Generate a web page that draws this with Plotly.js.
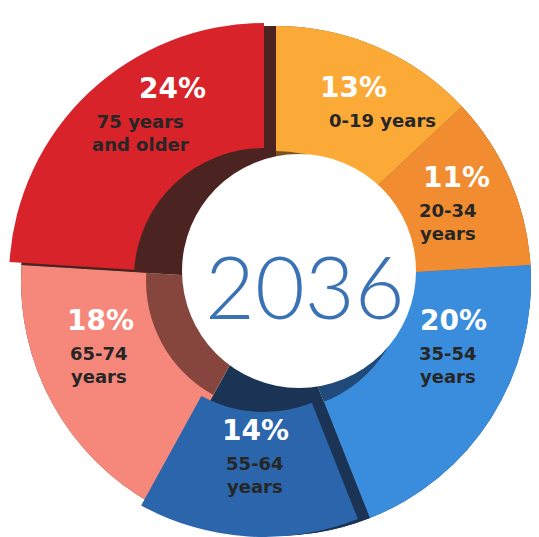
<!DOCTYPE html>
<html>
<head>
<meta charset="utf-8">
<script src="https://cdn.plot.ly/plotly-3.0.1.min.js"></script>
<style>
  html, body { margin: 0; padding: 0; background: #ffffff; overflow: hidden; }
  #chart { width: 539px; height: 537px; }
</style>
</head>
<body>
<div id="chart"></div>
<script>
// ---- data ----
const categories = ["0-19 years", "20-34 years", "35-54 years", "55-64 years", "65-74 years", "75 years and older"];
const shares = [13, 11, 20, 14, 18, 24];
const lineLabels = ["0-19 years", "20-34<br>years", "35-54<br>years", "55-64<br>years", "65-74<br>years", "75 years<br>and older"];
const centerLabel = "2036";

// ---- styling ----
const faceColors = ["#FBAA38", "#F18D30", "#3A8DDC", "#2B65AC", "#F6887B", "#D8232A"];
const wallColors = ["#7a5321", "#6e3d17", "#1f4a7a", "#1b3354", "#86463d", "#4b2321"];
const W = 539, H = 537;
const geo = { cx: 276, cy: 281, r: 255, inner: 130 };
const holeC = { cx: 299, cy: 271, r: 117 };
const raised = { 5: { dx: -12, dy: -3 }, 3: { dx: -12, dy: 1 } };
// label placement: ring along slice bisectors plus hand nudges (px)
const labelRing = { cx: 280, cy: 258, r: 190.6 };
const labelNudge = [[27, 24], [-7, 15], [7, -20], [-13, 2], [-14, -10], [-9, -11]];
const pctShiftX = [-29, 9, 6, 0, 2, 32];
const labelFont = "DejaVu Sans, Open Sans, sans-serif";

function domainFor(cx, cy, r) {
  return { x: [(cx - r) / W, (cx + r) / W], y: [1 - (cy + r) / H, 1 - (cy - r) / H] };
}

const base = {
  type: "pie", labels: categories, values: shares,
  sort: false, direction: "clockwise", rotation: 0,
  textinfo: "none", showlegend: false
};

const traces = [];
// inner wall / shadow disc
traces.push(Object.assign({}, base, {
  domain: domainFor(geo.cx, geo.cy, geo.r), hole: 0,
  marker: { colors: wallColors, line: { width: 0 } }, hoverinfo: "skip"
}));
// main ring (raised slices shown as their side walls here)
traces.push(Object.assign({}, base, {
  domain: domainFor(geo.cx, geo.cy, geo.r), hole: geo.inner / geo.r,
  marker: { colors: faceColors.map((c, i) => raised[i] ? wallColors[i] : c), line: { width: 0 } },
  hovertemplate: "%{label}: %{value}%<extra></extra>"
}));
// raised slices
Object.keys(raised).forEach(k => {
  const i = +k, s = raised[k];
  traces.push(Object.assign({}, base, {
    domain: domainFor(geo.cx + s.dx, geo.cy + s.dy, geo.r), hole: geo.inner / geo.r,
    marker: { colors: faceColors.map((c, j) => j === i ? c : "rgba(0,0,0,0)"), line: { width: 0 } },
    hovertemplate: "%{label}: %{value}%<extra></extra>"
  }));
});

// slice labels placed along each slice's bisector
const total = shares.reduce((a, b) => a + b, 0);
let cum = 0;
const labelAnnotations = [];
shares.forEach((v, i) => {
  const mid = (cum + v / 2) / total * 2 * Math.PI;
  cum += v;
  const px = labelRing.cx + labelRing.r * Math.sin(mid) + labelNudge[i][0];
  const py = labelRing.cy - labelRing.r * Math.cos(mid) + labelNudge[i][1];
  labelAnnotations.push({
    text: v + "%", xref: "paper", yref: "paper",
    x: (px + pctShiftX[i]) / W, y: 1 - (py - 1) / H,
    xanchor: "center", yanchor: "bottom", showarrow: false,
    font: { family: labelFont, size: 28, color: "#ffffff", weight: "bold" }
  });
  labelAnnotations.push({
    text: lineLabels[i], xref: "paper", yref: "paper",
    x: px / W, y: 1 - (py + 1) / H,
    xanchor: "center", yanchor: "top", align: "center", showarrow: false,
    font: { family: labelFont, size: 18, color: "#262626", weight: "bold" }
  });
});

const layout = {
  width: W, height: H,
  margin: { l: 0, r: 0, t: 0, b: 0 },
  paper_bgcolor: "#ffffff",
  showlegend: false,
  shapes: [{
    type: "circle", xref: "paper", yref: "paper", layer: "above",
    x0: (holeC.cx - holeC.r) / W, x1: (holeC.cx + holeC.r) / W,
    y0: 1 - (holeC.cy + holeC.r) / H, y1: 1 - (holeC.cy - holeC.r) / H,
    fillcolor: "#ffffff", line: { width: 0 }
  }],
  annotations: labelAnnotations.concat([{
    text: centerLabel, xref: "paper", yref: "paper",
    x: 305 / W, y: 1 - 285 / H, xanchor: "center", yanchor: "middle",
    showarrow: false,
    font: { family: "Lato, Open Sans, sans-serif", size: 86, color: "#3A72B4", weight: 300 }
  }])
};

Plotly.newPlot("chart", traces, layout, { displayModeBar: false, staticPlot: true });
</script>
</body>
</html>
